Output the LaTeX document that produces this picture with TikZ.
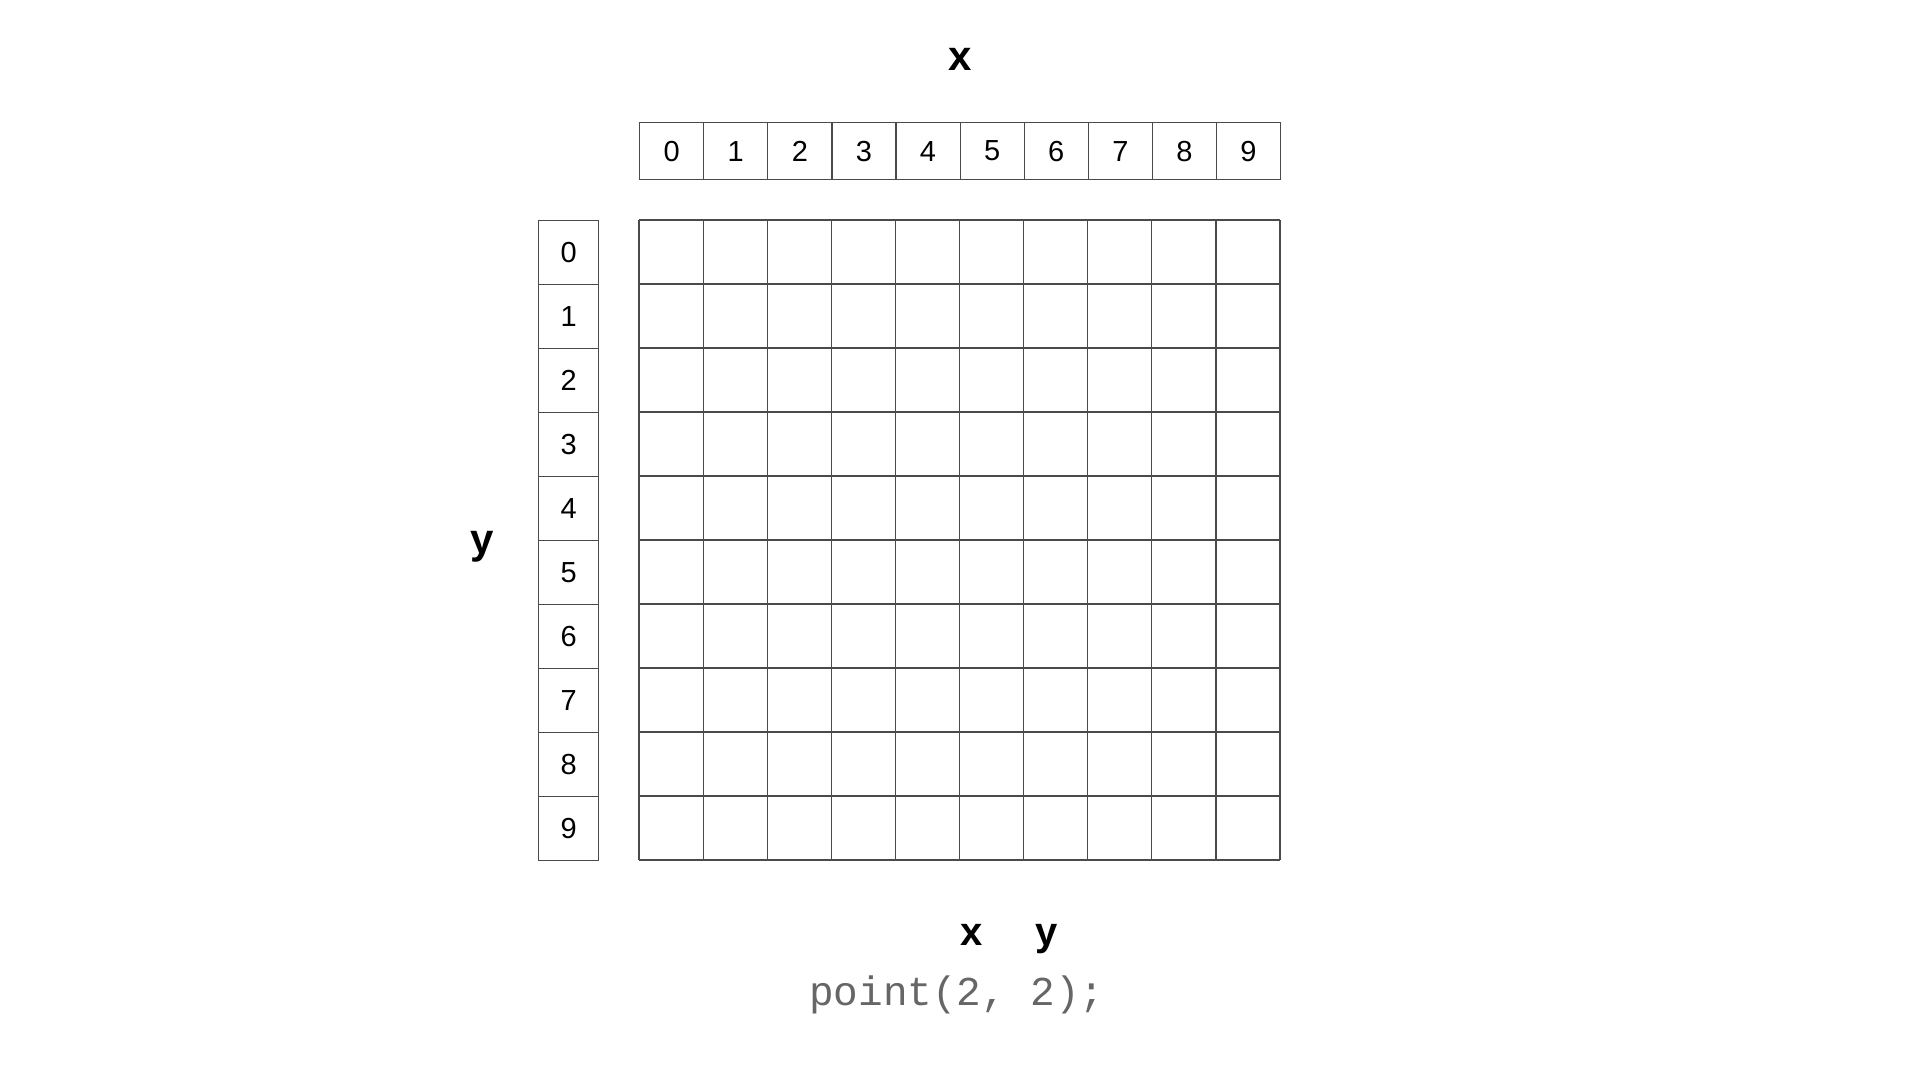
\documentclass[tikz,border=0pt]{standalone}
\usepackage{fontspec}
\setmainfont{Liberation Sans}
\newfontfamily\codefont{Liberation Mono}
\definecolor{gridline}{HTML}{4A4A4A}
\definecolor{codegrey}{HTML}{666666}
\begin{document}
\begin{tikzpicture}[x=1pt,y=-1pt,
  cellbox/.style={draw=gridline,line width=1.2pt,minimum width=64.1pt,minimum height=57pt,inner sep=0pt,font=\fontsize{29}{29}\selectfont,anchor=north west},
  rowbox/.style={draw=gridline,line width=1.2pt,minimum width=60pt,minimum height=64pt,inner sep=0pt,font=\fontsize{29}{29}\selectfont,anchor=north west},
  gridrule/.style={draw=gridline,line width=1.2pt},
  axislabel/.style={font=\fontsize{42}{42}\selectfont\bfseries,inner sep=0pt,anchor=base},
  code/.style={font=\fontsize{41}{41}\selectfont\codefont,text=codegrey,inner sep=0pt,anchor=base}]
\useasboundingbox (0,0) rectangle (1920,1080);
\fill[white] (0,0) rectangle (1920,1080);
% top index row
\foreach \i in {0,...,9}{
  \node[cellbox] (top\i) at ({639+64.1*\i},122) {\i};
}
% left index column
\foreach \j in {0,...,9}{
  \node[rowbox] (left\j) at (538,{220+64*\j}) {\j};
}
% grid
\foreach \k in {0,...,10}{
  \draw[gridrule] ({639+64.1*\k},220) -- ({639+64.1*\k},860);
  \draw[gridrule] (639,{220+64*\k}) -- (1280,{220+64*\k});
}
% labels
\node[axislabel] (xlab) at (960,70) {x};
\node[axislabel] (ylab) at (482,553) {y};
\node[axislabel,font=\fontsize{40}{40}\selectfont\bfseries] (xarg) at (972,945) {x};
\node[axislabel,font=\fontsize{40}{40}\selectfont\bfseries] (yarg) at (1047,945) {y};
\node[code] (call) at (957,1005) {point(2, 2);};
\end{tikzpicture}
\end{document}
